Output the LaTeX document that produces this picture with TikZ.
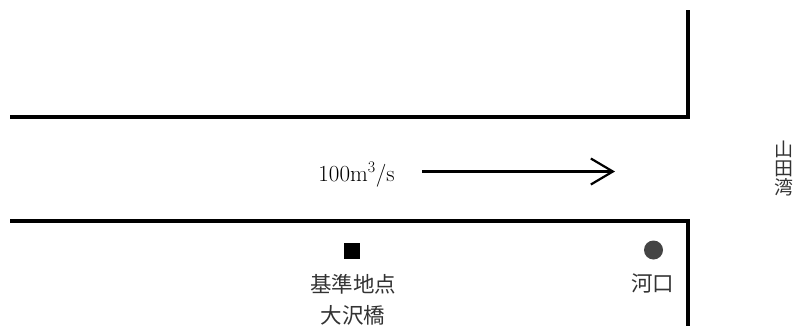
\documentclass[tikz,border=0pt]{standalone}
\usepackage{fontspec}
\newfontfamily\jp{Noto Sans CJK JP}
\usetikzlibrary{arrows.meta}
\definecolor{txt}{HTML}{333333}
\definecolor{dot}{HTML}{444444}
\tikzset{
  bank/.style={line width=3.5pt, line join=miter},
  jlabel/.style={font=\jp\fontsize{21.5}{24}\selectfont, text=txt, inner sep=0pt},
  baylabel/.style={font=\jp\fontsize{19}{19}\selectfont, text=txt, inner sep=0pt, align=center},
  flow/.style={line width=2.2pt, -{Straight Barb[length=22pt,width=26pt,line width=2.2pt]}}
}
\begin{document}
\begin{tikzpicture}[x=1pt,y=-1pt]
\useasboundingbox (0,0) rectangle (797,325);
% banks
\coordinate (tl) at (10,117);
\coordinate (tc) at (688,117);
\coordinate (tt) at (688,9.5);
\coordinate (bl) at (10,221);
\coordinate (bc) at (688,221);
\coordinate (bb) at (688,326);
\draw[bank] (tl) -- (tc) -- (tt);
\draw[bank] (bl) -- (bc) -- (bb);
% flow
\node[font=\fontsize{23}{26}\selectfont, inner sep=0pt, anchor=base] (q) at (356.5,181.5) {100m\textsuperscript{3}/s};
\coordinate (a1) at (422,171.5);
\coordinate (a2) at (615,171.5);
\draw[flow] (a1) -- (a2);
% gauge
\node[fill=black, minimum size=15.5pt, inner sep=0pt] (sq) at (352,251) {};
\node[jlabel] (g1) at (353,284) {基準地点};
\node[jlabel] (g2) at (353,315.5) {大沢橋};
% mouth
\node[circle, fill=dot, minimum size=19pt, inner sep=0pt] (c) at (653.5,250) {};
\node[jlabel] (m) at (652.5,283) {河口};
% bay
\node[baylabel] (bay) at (783.5,168.5) {山\\田\\湾};
\end{tikzpicture}
\end{document}
